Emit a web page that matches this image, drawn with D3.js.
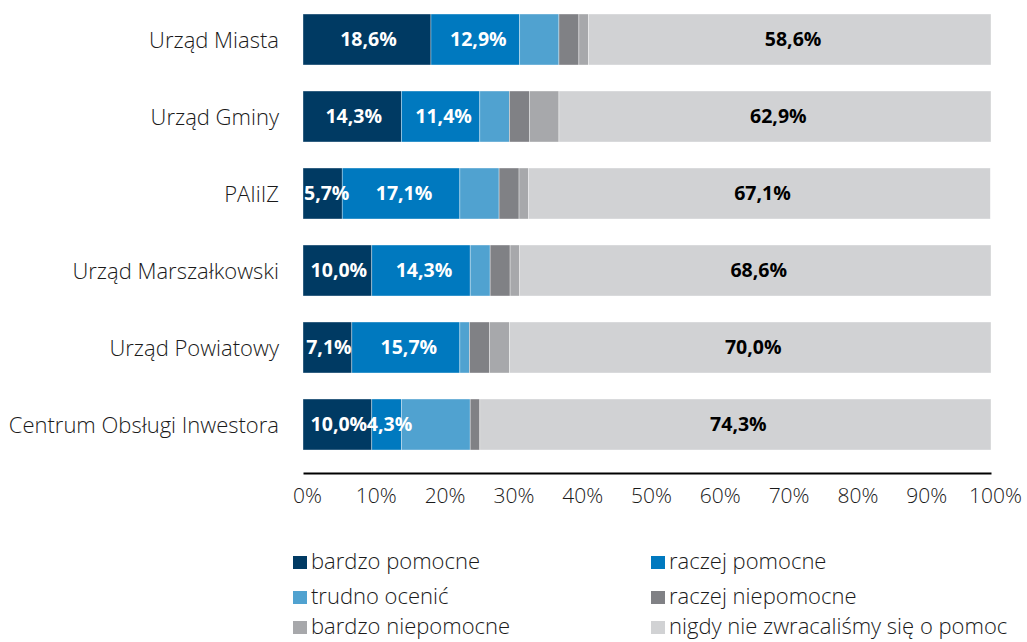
<!DOCTYPE html>
<html>
<head>
<meta charset="utf-8">
<script src="https://cdn.jsdelivr.net/npm/d3@7"></script>
<style>
  html, body { margin: 0; padding: 0; background: #fff; }
  svg { display: block; font-family: "Open Sans", "Noto Sans", sans-serif; }
</style>
</head>
<body>
<svg id="chart" width="1027" height="642"></svg>
<script>
const categories = ["Urząd Miasta", "Urząd Gminy", "PAIiIZ", "Urząd Marszałkowski", "Urząd Powiatowy", "Centrum Obsługi Inwestora"];
const seriesNames = ["bardzo pomocne", "raczej pomocne", "trudno ocenić", "raczej niepomocne", "bardzo niepomocne", "nigdy nie zwracaliśmy się o pomoc"];
const bardzoPomocne    = [18.6, 14.3, 5.7, 10.0, 7.1, 10.0];
const raczejPomocne    = [12.9, 11.4, 17.1, 14.3, 15.7, 4.3];
const trudnoOcenic     = [5.7, 4.3, 5.7, 2.9, 1.4, 10.0];
const raczejNiepomocne = [2.9, 2.9, 2.9, 2.9, 2.9, 1.4];
const bardzoNiepomocne = [1.4, 4.3, 1.4, 1.4, 2.9, 0.0];
const nigdy            = [58.6, 62.9, 67.1, 68.6, 70.0, 74.3];
const tickValues = [0, 10, 20, 30, 40, 50, 60, 70, 80, 90, 100];
const colors = ["#003a63", "#0079bf", "#50a2d0", "#808185", "#a7a8ab", "#d1d2d4"];
const labelColors = ["#fff", "#fff", "#fff", "#fff", "#fff", "#000"];

const seriesValues = [bardzoPomocne, raczejPomocne, trudnoOcenic, raczejNiepomocne, bardzoNiepomocne, nigdy];

const svg = d3.select("#chart");

const x = d3.scaleLinear().domain([0, 100]).range([303, 991]);
const y = d3.scaleBand().domain(categories).range([1, 463]).paddingInner(0.338).paddingOuter(0.169);

// Build stacked segments
const segments = [];
categories.forEach((cat, ci) => {
  let acc = 0;
  seriesValues.forEach((vals, si) => {
    const v = vals[ci];
    segments.push({cat, si, x0: acc, x1: acc + v, v});
    acc += v;
  });
});

svg.append("g").selectAll("rect")
  .data(segments.filter(d => d.v > 0))
  .join("rect")
  .attr("x", d => x(d.x0))
  .attr("y", d => y(d.cat))
  .attr("width", d => Math.min(x(d.x1), x(100)) - x(d.x0))
  .attr("height", y.bandwidth())
  .attr("fill", d => colors[d.si])
  .attr("stroke", "#ffffff")
  .attr("stroke-opacity", 0.6)
  .attr("stroke-width", 0.6);

// Value labels
const fmt = v => v.toFixed(1).replace(".", ",") + "%";
svg.append("g").selectAll("text")
  .data(segments.filter(d => d.si === 0 || d.si === 1 || d.si === 5))
  .join("text")
  .attr("y", d => y(d.cat) + y.bandwidth() / 2)
  .attr("dy", "0.34em")
  .attr("text-anchor", "middle")
  .attr("font-size", 19.5)
  .attr("font-weight", 700)
  .attr("fill", d => labelColors[d.si])
  .text(d => fmt(d.v))
  .attr("x", function(d) {
    const c = x((d.x0 + d.x1) / 2) + (d.si === 0 ? 1.5 : 3);
    const w = this.getComputedTextLength();
    return Math.max(c, x(0) + 1 + w / 2);
  });

// Category labels
svg.append("g").selectAll("text")
  .data(categories)
  .join("text")
  .attr("x", 279)
  .attr("y", d => y(d) + y.bandwidth() / 2)
  .attr("dy", "0.4em")
  .attr("text-anchor", "end")
  .attr("font-size", 22)
  .attr("font-weight", 300)
  .attr("fill", "#1a1a1a")
  .text(d => d);

// X axis
const xAxis = d3.axisBottom(x)
  .tickValues(tickValues)
  .tickFormat(d => d + "%")
  .tickSize(0)
  .tickPadding(15);

const gx = svg.append("g")
  .attr("transform", "translate(0,473)")
  .call(xAxis);
gx.select(".domain").attr("stroke", "#000").attr("stroke-width", 2);
gx.selectAll("text")
  .attr("font-family", "'Open Sans', sans-serif")
  .attr("font-size", 21)
  .attr("font-weight", 300)
  .attr("fill", "#1a1a1a")
  .attr("dx", 4);

// Legend
const legendPos = [
  {x: 293, y: 569}, {x: 651, y: 569},
  {x: 293, y: 604}, {x: 651, y: 604},
  {x: 293, y: 634}, {x: 651, y: 634}
];
const lg = svg.append("g").selectAll("g")
  .data(seriesNames)
  .join("g")
  .attr("transform", (d, i) => `translate(${legendPos[i].x},${legendPos[i].y})`);
lg.append("rect")
  .attr("x", 0).attr("y", -13)
  .attr("width", 14).attr("height", 13)
  .attr("fill", (d, i) => colors[i]);
lg.append("text")
  .attr("x", 18).attr("y", 0)
  .attr("font-size", 22)
  .attr("font-weight", 300)
  .attr("fill", "#1a1a1a")
  .text(d => d);
</script>
</body>
</html>
